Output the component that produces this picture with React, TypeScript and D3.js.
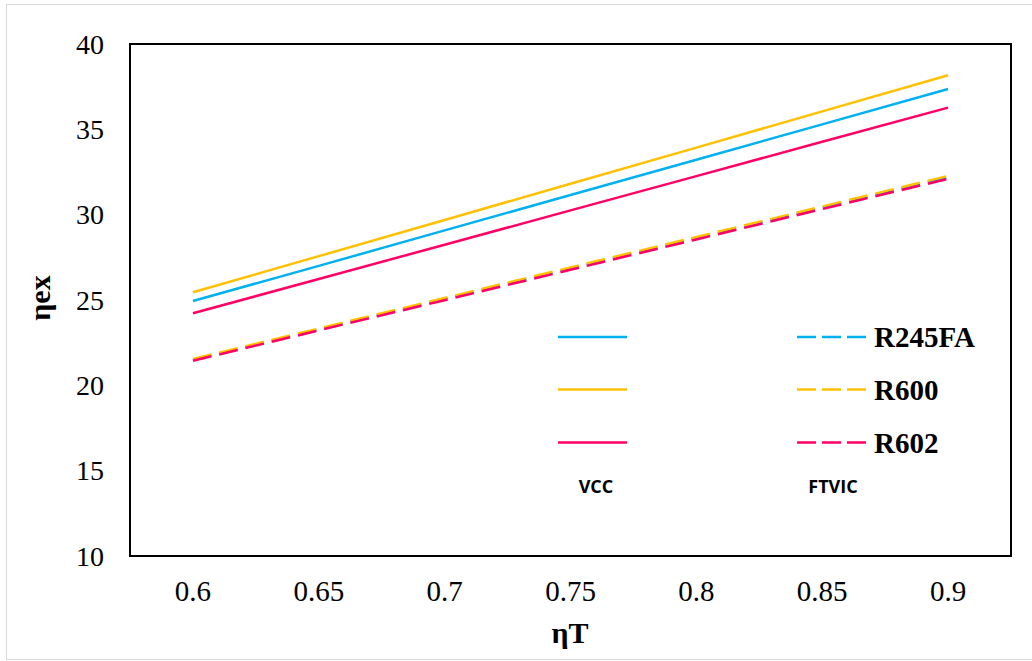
import React, { useEffect, useRef } from "react";
import * as d3 from "d3";

// category axis values (eta T)
const etaT = ["0.6", "0.65", "0.7", "0.75", "0.8", "0.85", "0.9"];
const yTicks = [10, 15, 20, 25, 30, 35, 40];

// exergy efficiency values
const vccR245fa = [24.94, 27.0, 29.08, 31.15, 33.22, 35.29, 37.36];
const vccR600 = [25.45, 27.57, 29.69, 31.81, 33.93, 36.05, 38.17];
const vccR602 = [24.22, 26.23, 28.24, 30.25, 32.26, 34.27, 36.27];
const ftvicR245fa = [21.5, 23.28, 25.07, 26.85, 28.63, 30.42, 32.2];
const ftvicR600 = [21.54, 23.33, 25.12, 26.91, 28.69, 30.48, 32.27];
const ftvicR602 = [21.44, 23.22, 24.99, 26.77, 28.55, 30.33, 32.1];

const fluids = ["R245FA", "R600", "R602"];
const colors = ["#00B0F0", "#FFC000", "#FF0066"];

const series = [
  { name: "R245FA", cycle: "VCC", values: vccR245fa },
  { name: "R600", cycle: "VCC", values: vccR600 },
  { name: "R602", cycle: "VCC", values: vccR602 },
  { name: "R245FA", cycle: "FTVIC", values: ftvicR245fa },
  { name: "R600", cycle: "FTVIC", values: ftvicR600 },
  { name: "R602", cycle: "FTVIC", values: ftvicR602 },
];

const serif = "'Liberation Serif', 'Times New Roman', serif";

const App = () => {
  const svgRef = useRef<SVGSVGElement>(null);

  useEffect(() => {
    const width = 1032;
    const height = 661;
    const margin = { top: 44, right: 21, bottom: 105, left: 130 };

    const svg = d3.select(svgRef.current);
    svg.selectAll("*").remove();

    // outer frame
    svg
      .append("rect")
      .attr("x", 6.5)
      .attr("y", 4.5)
      .attr("width", width + 20)
      .attr("height", height - 6)
      .attr("fill", "#fff")
      .attr("stroke", "#d9d9d9")
      .attr("stroke-width", 1);

    const x = d3
      .scalePoint()
      .domain(etaT)
      .range([margin.left, width - margin.right])
      .padding(0.5);

    const y = d3
      .scaleLinear()
      .domain([10, 40])
      .range([height - margin.bottom, margin.top]);

    // plot box
    svg
      .append("rect")
      .attr("x", margin.left)
      .attr("y", margin.top)
      .attr("width", width - margin.left - margin.right)
      .attr("height", height - margin.top - margin.bottom)
      .attr("fill", "none")
      .attr("stroke", "#000")
      .attr("stroke-width", 2);

    // y tick labels
    svg
      .append("g")
      .selectAll("text")
      .data(yTicks)
      .enter()
      .append("text")
      .attr("x", margin.left - 26)
      .attr("y", (d) => y(d))
      .attr("dy", "0.35em")
      .attr("text-anchor", "end")
      .style("font-family", serif)
      .style("font-size", "28px")
      .text((d) => d);

    // x tick labels
    svg
      .append("g")
      .selectAll("text")
      .data(etaT)
      .enter()
      .append("text")
      .attr("x", (d) => x(d) as number)
      .attr("y", 601)
      .attr("text-anchor", "middle")
      .style("font-family", serif)
      .style("font-size", "29px")
      .text((d) => d);

    // axis titles
    svg
      .append("text")
      .attr("x", 570)
      .attr("y", 643)
      .attr("text-anchor", "middle")
      .style("font-family", serif)
      .style("font-size", "30px")
      .style("font-weight", "bold")
      .text("ηT");

    svg
      .append("text")
      .attr("transform", `translate(50, 298) rotate(-90)`)
      .attr("text-anchor", "middle")
      .style("font-family", serif)
      .style("font-size", "30px")
      .style("font-weight", "bold")
      .text("ηex");

    // lines
    const line = d3
      .line<number>()
      .x((d, i) => x(etaT[i]) as number)
      .y((d) => y(d));

    series.forEach((s) => {
      svg
        .append("path")
        .datum(s.values)
        .attr("fill", "none")
        .attr("stroke", colors[fluids.indexOf(s.name)])
        .attr("stroke-width", 2.5)
        .attr("stroke-dasharray", s.cycle === "FTVIC" ? "19 8" : null)
        .attr("d", line);
    });

    // legend
    const legendRows = [337, 389.5, 442.5];
    const legendCols = [558, 797];
    const legend = svg.append("g");
    series.forEach((s) => {
      const col = s.cycle === "VCC" ? 0 : 1;
      const row = fluids.indexOf(s.name);
      legend
        .append("line")
        .attr("x1", legendCols[col])
        .attr("x2", legendCols[col] + 69)
        .attr("y1", legendRows[row])
        .attr("y2", legendRows[row])
        .attr("stroke", colors[row])
        .attr("stroke-width", 2.5)
        .attr("stroke-dasharray", col === 1 ? "19 6" : null);
      if (col === 1) {
        legend
          .append("text")
          .attr("x", 874)
          .attr("y", legendRows[row])
          .attr("dy", "0.35em")
          .style("font-family", serif)
          .style("font-size", "29px")
          .style("font-weight", "bold")
          .text(s.name);
      }
    });

    const cycles = ["VCC", "FTVIC"];
    legend
      .selectAll(".cycle")
      .data(cycles)
      .enter()
      .append("text")
      .attr("class", "cycle")
      .attr("x", (d, i) => (i === 0 ? 596 : 833))
      .attr("y", 493)
      .attr("text-anchor", "middle")
      .style("font-family", "'Open Sans', sans-serif")
      .style("font-size", "18px")
      .style("font-weight", "bold")
      .text((d) => d);
  }, []);

  return (
    <svg
      ref={svgRef}
      width={1032}
      height={661}
      style={{ position: "absolute", left: 0, top: 0, background: "#fff" }}
    />
  );
};

export default App;
